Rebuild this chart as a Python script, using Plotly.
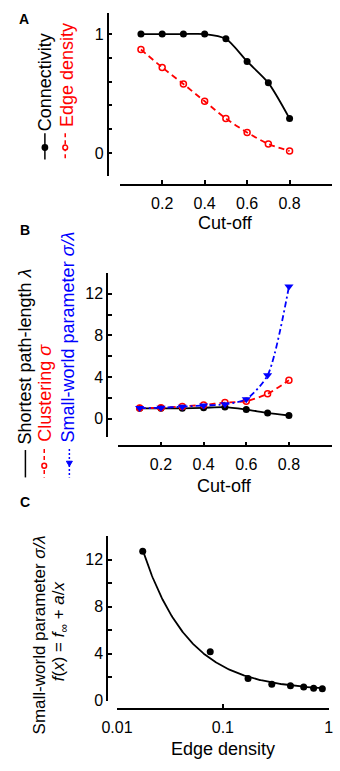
import numpy as np
import plotly.graph_objects as go

# ---------------- data ----------------
cutoff = [0.1, 0.2, 0.3, 0.4, 0.5, 0.6, 0.7, 0.8]
connectivity = [1.0, 1.0, 1.0, 1.0, 0.96, 0.77, 0.59, 0.29]
edge_density = [0.87, 0.72, 0.58, 0.435, 0.29, 0.173, 0.076, 0.0175]
path_length = [1.0, 1.0, 1.0, 1.05, 1.12, 0.88, 0.56, 0.31]
clustering = [1.02, 1.05, 1.18, 1.33, 1.55, 1.68, 2.4, 3.69]
small_world = [1.02, 1.05, 1.16, 1.27, 1.39, 1.88, 4.17, 12.7]

cut_ticks = [0, 0.2, 0.4, 0.6, 0.8, 1.0]
cut_ticktext = [" ", "0.2", "0.4", "0.6", "0.8", " "]
a_yticks = [0, 0.2, 0.4, 0.6, 0.8, 1.0]
a_yticktext = ["0", " ", " ", " ", " ", "1"]
sw_yticks = [0, 2, 4, 6, 8, 10, 12, 14]
sw_yticktext = ["0", " ", "4", " ", "8", " ", "12", " "]
dens_ticks = [0.01, 0.1, 1]
dens_ticktext = ["0.01", "0.1", "1"]

# fit f(x) = f_inf + a/x by least squares on panel C data
xd = np.array(edge_density)
yd = np.array(small_world)
A = np.vstack([np.ones_like(xd), 1.0 / xd]).T
(f_inf, a_fit), *_ = np.linalg.lstsq(A, yd, rcond=None)
x_fit = np.logspace(np.log10(xd.min()), np.log10(xd.max()), 200)
y_fit = f_inf + a_fit / x_fit

# ---------------- layout helpers ----------------
W, H = 340, 771
def fx(p):
    return p / W
def fy(p):
    return 1 - p / H

FONT = "Arial, Liberation Sans, sans-serif"
RED = "#ff0000"
BLUE = "#0000ff"
LW = 1.8

fig = go.Figure()

# Panel A
fig.add_trace(go.Scatter(x=cutoff, y=connectivity, mode="lines+markers",
                         line=dict(color="black", width=LW, shape="spline", smoothing=0.7),
                         marker=dict(symbol="circle", size=7, color="black"),
                         xaxis="x", yaxis="y", showlegend=False))
fig.add_trace(go.Scatter(x=cutoff, y=edge_density, mode="lines+markers",
                         line=dict(color=RED, width=LW, dash="6px,4px", shape="spline", smoothing=0.7),
                         marker=dict(symbol="circle-open", size=6, color=RED, line=dict(width=1.5)),
                         xaxis="x", yaxis="y", showlegend=False))
# Panel B
fig.add_trace(go.Scatter(x=cutoff, y=path_length, mode="lines+markers",
                         line=dict(color="black", width=LW, shape="spline", smoothing=0.7),
                         marker=dict(symbol="circle", size=7, color="black"),
                         xaxis="x2", yaxis="y2", showlegend=False))
fig.add_trace(go.Scatter(x=cutoff, y=clustering, mode="lines+markers",
                         line=dict(color=RED, width=LW, dash="6px,4px", shape="spline", smoothing=0.7),
                         marker=dict(symbol="circle-open", size=6, color=RED, line=dict(width=1.5)),
                         xaxis="x2", yaxis="y2", showlegend=False))
fig.add_trace(go.Scatter(x=cutoff, y=small_world, mode="lines+markers",
                         line=dict(color=BLUE, width=LW, dash="6px,3px,2px,3px", shape="spline", smoothing=0.7),
                         marker=dict(symbol="triangle-down", size=8, color=BLUE),
                         xaxis="x2", yaxis="y2", showlegend=False))
# Panel C
fig.add_trace(go.Scatter(x=x_fit, y=y_fit, mode="lines",
                         line=dict(color="black", width=LW),
                         xaxis="x3", yaxis="y3", showlegend=False))
fig.add_trace(go.Scatter(x=edge_density, y=small_world, mode="markers",
                         marker=dict(symbol="circle", size=7, color="black"),
                         xaxis="x3", yaxis="y3", showlegend=False))

axis_common = dict(showline=True, linecolor="black", linewidth=1.5,
                   ticks="inside", ticklen=4, tickwidth=1.5, tickcolor="black",
                   showgrid=False, zeroline=False,
                   tickfont=dict(family=FONT, size=16, color="black"),
                   tickmode="array", anchor="free", fixedrange=True,
                   ticklabeloverflow="allow")
x_common = dict(axis_common, ticklabelstandoff=4)

fig.update_layout(
    width=W, height=H,
    margin=dict(l=0, r=0, t=0, b=0),
    paper_bgcolor="white", plot_bgcolor="white",
    font=dict(family=FONT, color="black"),
    xaxis=dict(x_common, domain=[fx(110.2), fx(335.8)], range=[0, 1],
               position=fy(181), tickvals=cut_ticks, ticktext=cut_ticktext),
    yaxis=dict(axis_common, domain=[fy(171.7), fy(5)], range=[-0.192, 1.178],
               position=fx(97.3), tickvals=a_yticks, ticktext=a_yticktext),
    xaxis2=dict(x_common, domain=[fx(108.7), fx(335.3)], range=[0, 1],
                position=fy(448.3), tickvals=cut_ticks, ticktext=cut_ticktext),
    yaxis2=dict(axis_common, domain=[fy(438.5), fy(270.5)], range=[-1.74, 14.05],
                position=fx(96.7), tickvals=sw_yticks, ticktext=sw_yticktext),
    xaxis3=dict(x_common, type="log", domain=[fx(107.3), fx(332.5)], range=[-2.0, 0.002],
                position=fy(716.7), tickvals=dens_ticks, ticktext=dens_ticktext),
    yaxis3=dict(axis_common, domain=[fy(708.3), fy(540)], range=[0, 14],
                position=fx(96.7), tickvals=sw_yticks, ticktext=sw_yticktext),
)

ann = []
def text(x, y, s, size=18, color="black", angle=0, xa="center", ya="middle"):
    ann.append(dict(x=fx(x), y=fy(y), xref="paper", yref="paper", text=s,
                    showarrow=False, textangle=angle, xanchor=xa, yanchor=ya,
                    font=dict(family=FONT, size=size, color=color)))

# panel letters
text(9, 11, "<b>A</b>", size=14)
text(10, 227, "<b>B</b>", size=14)
text(10, 505, "<b>C</b>", size=14)
# axis titles
text(223, 220, "Cut-off")
text(222, 489, "Cut-off")
text(220, 758, "Edge density")
# panel A legend (rotated)
text(31, 128, "Connectivity", angle=-90, ya="bottom")
text(54, 124, "Edge density", color=RED, angle=-90, ya="bottom")
# panel B legend (rotated)
text(10, 448, "Shortest path-length <i>λ</i>", angle=-90, ya="bottom")
text(31.5, 446, "Clustering <i>σ</i>", color=RED, angle=-90, ya="bottom")
text(55, 446, "Small-world parameter <i>σ/λ</i>", color=BLUE, angle=-90, ya="bottom")
# panel C y title
text(25, 641, "Small-world parameter <i>σ/λ</i>", size=17, angle=-90)
text(47, 637, "<i>f</i>(<i>x</i>) = <i>f</i><sub>∞</sub> + <i>a</i>/<i>x</i>", size=17, angle=-90)

fig.update_layout(annotations=ann)

# legend symbols (shapes)
shapes = []
def vline(x, y0, y1, color, dash="solid"):
    shapes.append(dict(type="line", xref="paper", yref="paper",
                       x0=fx(x), x1=fx(x), y0=fy(y0), y1=fy(y1),
                       line=dict(color=color, width=1.5, dash=dash)))
def circ(x, y, r, color, filled=True):
    shapes.append(dict(type="circle", xref="paper", yref="paper",
                       x0=fx(x - r), x1=fx(x + r), y0=fy(y + r), y1=fy(y - r),
                       line=dict(color=color, width=1.5),
                       fillcolor=color if filled else "white"))
def tri(x, y, s, color):
    path = "M {} {} L {} {} L {} {} Z".format(fx(x - s), fy(y - s * 0.8), fx(x + s), fy(y - s * 0.8), fx(x), fy(y + s * 0.8))
    shapes.append(dict(type="path", xref="paper", yref="paper", path=path,
                       line=dict(color=color, width=1), fillcolor=color))

vline(30.7, 128, 155, "black")
circ(30.7, 142.7, 2.8, "black")
vline(52.3, 128, 155, RED, "4px,3px")
circ(52.3, 142.7, 2.5, RED, filled=False)

vline(10, 452, 480, "black")
vline(30, 451, 480, RED, "4px,3px")
circ(30, 468, 2.5, RED, filled=False)
vline(56.7, 451, 480, BLUE, "2px,2px")
tri(56.7, 466, 3.2, BLUE)

fig.update_layout(shapes=shapes)

fig.write_html(
    "out.html",
    config={"displayModeBar": False},
    post_script="document.body.style.margin='0';document.body.style.padding='0';"
                "document.documentElement.style.overflow='hidden';",
)
